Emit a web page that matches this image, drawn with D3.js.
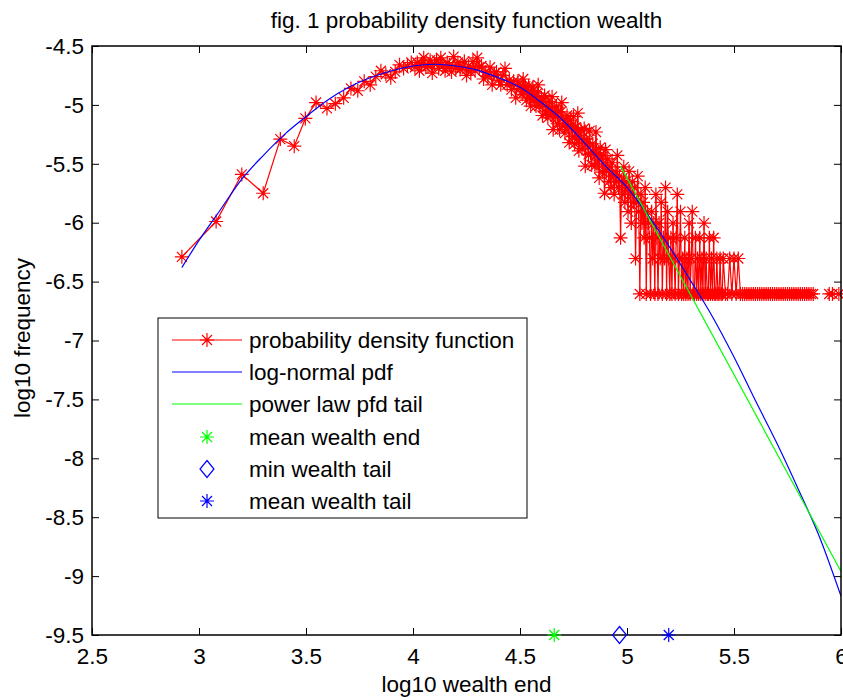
<!DOCTYPE html>
<html><head><meta charset="utf-8">
<script src="https://cdn.jsdelivr.net/npm/d3@7"></script>
<style>
body{margin:0;background:#fff}
svg{display:block}
text{font-family:"Liberation Sans",Arial,Helvetica,sans-serif;font-size:22.5px;fill:#000}
</style>
</head><body>
<svg id="c" width="843" height="700"></svg>
<script>
// ---------- data ----------
const titleText = "fig. 1 probability density function wealth";
const xLabel = "log10 wealth end";
const yLabel = "log10 frequency";
const xTicks = [2.5, 3, 3.5, 4, 4.5, 5, 5.5, 6];
const yTicks = [-4.5, -5, -5.5, -6, -6.5, -7, -7.5, -8, -8.5, -9, -9.5];

// empirical pdf (log10 wealth, log10 frequency) : body
const pdfBody = [
[2.92,-6.29],[3.08,-5.99],[3.20,-5.59],[3.30,-5.75],[3.38,-5.29],[3.445,-5.35],[3.497,-5.115],[3.547,-4.98],
[3.598,-5.03],[3.637,-4.99],[3.676,-4.94],[3.71,-4.86],[3.742,-4.88],[3.772,-4.80],[3.80,-4.83],[3.826,-4.76],
[3.85,-4.71],[3.873,-4.74],[3.896,-4.77],[3.917,-4.72],[3.937,-4.66],[3.956,-4.69],[3.974,-4.67],[3.992,-4.64],[4.009,-4.68],
[4.02,-4.64],[4.03,-4.71],[4.04,-4.65],[4.05,-4.60],[4.06,-4.68],[4.07,-4.67],[4.08,-4.62],[4.09,-4.73],[4.10,-4.65],
[4.11,-4.62],[4.12,-4.69],[4.13,-4.60],[4.14,-4.67],[4.15,-4.71],[4.16,-4.64],[4.17,-4.66],[4.18,-4.72],[4.19,-4.59],
[4.20,-4.69],[4.21,-4.64],[4.22,-4.70],[4.23,-4.68],[4.24,-4.63],[4.25,-4.75],[4.26,-4.67],[4.27,-4.72],[4.28,-4.63],
[4.29,-4.71],[4.30,-4.60],[4.31,-4.68],[4.32,-4.67],[4.33,-4.78],[4.34,-4.72],[4.35,-4.76],[4.36,-4.68],[4.37,-4.83],
[4.38,-4.74],[4.39,-4.72],[4.40,-4.79],[4.41,-4.83],[4.42,-4.75],[4.43,-4.69],[4.44,-4.83],[4.45,-4.79],[4.46,-4.87],
[4.47,-4.80],[4.48,-4.94],[4.49,-4.80],[4.50,-4.86],
[4.505,-4.84],[4.51,-4.91],[4.515,-4.78],[4.52,-4.89],[4.525,-4.84],[4.53,-4.96],[4.535,-4.89],[4.54,-4.84],[4.545,-4.94],
[4.55,-5.01],[4.555,-4.89],[4.56,-4.85],[4.565,-4.96],[4.57,-4.93],[4.575,-5.01],[4.58,-4.90],[4.585,-4.83],[4.59,-5.01],
[4.595,-4.98],[4.60,-4.94],[4.605,-5.09],[4.61,-4.97],[4.615,-4.92],[4.62,-5.06],[4.625,-5.02],[4.63,-5.11],[4.635,-4.97],
[4.64,-5.02],[4.645,-5.08],[4.65,-4.93],[4.655,-5.21],[4.66,-5.06],[4.665,-5.10],[4.67,-5.01],[4.675,-5.16],[4.68,-5.06],
[4.685,-5.21],[4.69,-5.06],[4.695,-4.98],[4.70,-5.18],[4.705,-5.13],[4.71,-5.24],[4.715,-5.13],[4.72,-5.09],[4.725,-5.19],
[4.73,-5.32],[4.735,-5.13],[4.74,-5.18],[4.745,-5.27],[4.75,-5.10],[4.755,-5.33],[4.76,-5.19],[4.765,-5.29],[4.77,-5.07],
[4.775,-5.39],[4.78,-5.26],[4.785,-5.21],[4.79,-5.37],[4.795,-5.32],[4.80,-5.20],[4.805,-5.52],[4.81,-5.29],[4.815,-5.32],
[4.82,-5.42],[4.825,-5.22],[4.83,-5.41],[4.835,-5.51],[4.84,-5.33],[4.845,-5.40],[4.85,-5.52],[4.855,-5.23],[4.86,-5.50],
[4.865,-5.41],[4.87,-5.62],[4.875,-5.36],[4.88,-5.46],[4.885,-5.57],[4.89,-5.43],[4.895,-5.75],[4.90,-5.38]
];
// empirical pdf : tail (counts quantised at low frequency)
const pdfTail = [
[4.905,-5.564],[4.91,-5.459],[4.915,-5.651],[4.92,-5.526],[4.925,-5.702],[4.93,-5.491],[4.935,-5.605],[4.94,-5.76],
[4.945,-5.564],[4.95,-5.651],[4.955,-5.429],[4.96,-5.702],[4.965,-5.605],[4.97,-6.128],[4.975,-5.651],[4.98,-5.76],
[4.985,-5.526],[4.99,-5.827],[4.995,-5.651],[5.0,-5.702],[5.005,-5.906],[5.01,-5.564],[5.015,-5.76],[5.02,-6.003],
[5.025,-5.651],[5.03,-5.827],[5.035,-5.702],[5.04,-6.304],[5.045,-5.827],[5.05,-5.605],[5.055,-5.906],[5.06,-6.605],
[5.065,-5.76],[5.07,-6.003],[5.075,-5.827],[5.08,-6.128],[5.085,-5.702],[5.09,-6.605],[5.095,-5.906],[5.1,-6.003],
[5.105,-6.128],[5.11,-6.605],[5.115,-5.906],[5.12,-6.304],[5.125,-6.003],[5.13,-6.605],[5.135,-5.76],[5.14,-6.128],
[5.145,-6.605],[5.15,-6.003],[5.155,-6.304],[5.16,-5.827],[5.165,-6.605],[5.17,-6.128],[5.175,-6.304],[5.18,-5.702],
[5.185,-6.605],[5.19,-5.906],[5.195,-6.304],[5.2,-6.605],[5.205,-6.128],[5.21,-6.605],[5.215,-6.003],[5.22,-6.304],
[5.225,-6.605],[5.23,-6.128],[5.235,-5.76],[5.24,-6.605],[5.245,-6.304],[5.25,-5.906],[5.255,-6.605],[5.26,-6.304],
[5.265,-6.605],[5.27,-6.128],[5.275,-6.605],[5.28,-6.304],[5.285,-6.605],[5.29,-6.003],[5.295,-6.605],[5.3,-6.304],
[5.305,-5.906],[5.31,-6.605],[5.315,-6.605],[5.32,-6.128],[5.325,-6.605],[5.33,-6.304],[5.335,-6.605],[5.34,-6.128],
[5.345,-6.605],[5.35,-6.304],[5.355,-6.605],[5.36,-6.003],[5.365,-6.605],[5.37,-6.304],[5.375,-6.605],[5.38,-6.605],
[5.385,-6.128],[5.39,-6.605],[5.395,-6.304],[5.4,-6.605],[5.405,-6.128],[5.41,-6.605],[5.415,-6.605],[5.42,-6.304],
[5.425,-6.605],[5.43,-6.605],[5.435,-6.304],[5.44,-6.605],[5.445,-6.605],[5.45,-6.304],
[5.46,-6.605],[5.47,-6.605],[5.48,-6.304],[5.49,-6.605],[5.5,-6.304],[5.51,-6.605],[5.52,-6.304],[5.53,-6.605],
[5.54,-6.605],[5.55,-6.605],[5.56,-6.605],[5.57,-6.605],[5.58,-6.605],[5.59,-6.605],[5.6,-6.605],[5.61,-6.605],
[5.62,-6.605],[5.63,-6.605],[5.64,-6.605],[5.65,-6.605],[5.66,-6.605],[5.67,-6.605],[5.68,-6.605],[5.69,-6.605],
[5.7,-6.605],[5.71,-6.605],[5.72,-6.605],[5.73,-6.605],[5.74,-6.605],[5.75,-6.605],[5.76,-6.605],[5.77,-6.605],
[5.78,-6.605],[5.79,-6.605],[5.8,-6.605],[5.81,-6.605],[5.82,-6.605],[5.83,-6.605],[5.84,-6.605],[5.85,-6.605],
[5.86,-6.605],[5.87,-6.605]
];
// isolated end of the pdf after empty bins
const pdfEnd = [[5.945,-6.605],[5.96,-6.605],[5.99,-6.605]];

// fitted log-normal pdf
const logNormalX = [2.92,3.0,3.1,3.2,3.3,3.4,3.5,3.6,3.7,3.8,3.9,4.0,4.1,4.2,4.3,4.4,4.5,4.6,4.7,4.8,4.9,5.0,5.1,5.2,5.3,5.4,5.5,5.6,5.7,5.8,5.9,6.0];
const logNormalY = [-6.38,-6.15,-5.89,-5.63,-5.43,-5.25,-5.10,-4.96,-4.85,-4.77,-4.71,-4.67,-4.655,-4.67,-4.705,-4.77,-4.85,-4.98,-5.13,-5.32,-5.52,-5.70,-5.94,-6.21,-6.50,-6.80,-7.14,-7.51,-7.87,-8.26,-8.67,-9.17];

// power law tail
const powerLawX = [4.97, 6.0];
const powerLawY = [-5.52, -8.96];

// marker values on the x axis
const meanWealthEnd = 4.66;
const minWealthTail = 4.965;
const meanWealthTail = 5.195;

const legendLabels = ["probability density function","log-normal pdf","power law pfd tail","mean wealth end","min wealth tail","mean wealth tail"];

// ---------- drawing ----------
const svg = d3.select("#c");
const L = 92, R = 841, T = 46, B = 635;
const x = d3.scaleLinear().domain([2.5, 6]).range([L, R]);
const y = d3.scaleLinear().domain([-9.5, -4.5]).range([B, T]);

svg.append("rect").attr("width",843).attr("height",700).attr("fill","#fff");
svg.append("defs").append("clipPath").attr("id","clip")
  .append("rect").attr("x",L).attr("y",T).attr("width",R-L).attr("height",B-T);

const starPath = "M-7,0H7M0,-7V7M-5,-5L5,5M-5,5L5,-5";
const diamondPath = "M0,-8.5L7,0L0,8.5L-7,0Z";

// axes ticks (inside, all four sides)
const fmt = d => String(d);
const gx = svg.append("g").attr("transform",`translate(0,${B})`)
  .call(d3.axisBottom(x).tickValues(xTicks).tickSize(-7).tickSizeOuter(0).tickPadding(13).tickFormat(fmt));
const gxt = svg.append("g").attr("transform",`translate(0,${T})`)
  .call(d3.axisTop(x).tickValues(xTicks).tickSize(-7).tickSizeOuter(0).tickFormat(""));
const gy = svg.append("g").attr("transform",`translate(${L},0)`)
  .call(d3.axisLeft(y).tickValues(yTicks).tickSize(-7).tickSizeOuter(0).tickPadding(8).tickFormat(fmt));
const gyr = svg.append("g").attr("transform",`translate(${R},0)`)
  .call(d3.axisRight(y).tickValues(yTicks).tickSize(-7).tickSizeOuter(0).tickFormat(""));
[gx,gxt,gy,gyr].forEach(g=>{
  g.select(".domain").remove();
  g.selectAll(".tick line").attr("stroke","#000").attr("stroke-width",1);
  g.selectAll("text").attr("font-size",22.5).attr("font-family","Liberation Sans, Arial, sans-serif").attr("fill","#000");
});

// red pdf
const plot = svg.append("g");
const line = d3.line().defined(d => d !== null).x(d => x(d[0])).y(d => y(d[1]));
const pdfAll = pdfBody.concat(pdfTail, [null], pdfEnd);
plot.append("path").attr("d", line(pdfAll)).attr("clip-path","url(#clip)")
  .attr("fill","none").attr("stroke","#ff0000").attr("stroke-width",1.2);
plot.append("g").selectAll("path").data(pdfBody.concat(pdfTail, pdfEnd)).join("path")
  .attr("d", starPath).attr("transform", d => `translate(${x(d[0])},${y(d[1])})`)
  .attr("fill","none").attr("stroke","#ff0000").attr("stroke-width",1.2);

// log-normal
const lnData = logNormalX.map((v,i)=>[v, logNormalY[i]]);
plot.append("path").attr("d", d3.line().curve(d3.curveMonotoneX).x(d=>x(d[0])).y(d=>y(d[1]))(lnData))
  .attr("clip-path","url(#clip)").attr("fill","none").attr("stroke","#0000ff").attr("stroke-width",1.2);

// power law
const plData = powerLawX.map((v,i)=>[v, powerLawY[i]]);
plot.append("path").attr("d", d3.line().x(d=>x(d[0])).y(d=>y(d[1]))(plData))
  .attr("clip-path","url(#clip)").attr("fill","none").attr("stroke","#00ff00").attr("stroke-width",1.2);

// box
svg.append("rect").attr("x",L).attr("y",T).attr("width",R-L).attr("height",B-T)
  .attr("fill","none").attr("stroke","#000").attr("stroke-width",1.5);

// markers on the axis
svg.append("path").attr("d",starPath).attr("transform",`translate(${x(meanWealthEnd)},${y(-9.5)})`)
  .attr("fill","none").attr("stroke","#00ff00").attr("stroke-width",1.2);
svg.append("path").attr("d",diamondPath).attr("transform",`translate(${x(minWealthTail)},${y(-9.5)})`)
  .attr("fill","none").attr("stroke","#0000ff").attr("stroke-width",1.2);
svg.append("path").attr("d",starPath).attr("transform",`translate(${x(meanWealthTail)},${y(-9.5)})`)
  .attr("fill","none").attr("stroke","#0000ff").attr("stroke-width",1.2);

// title and labels
svg.append("text").attr("x",(L+R)/2).attr("y",28).attr("text-anchor","middle").text(titleText);
svg.append("text").attr("x",(L+R)/2).attr("y",692).attr("text-anchor","middle").text(xLabel);
svg.append("text").attr("transform",`translate(30,338) rotate(-90)`).attr("text-anchor","middle").text(yLabel);

// legend
const lg = svg.append("g");
lg.append("rect").attr("x",158).attr("y",318).attr("width",369).attr("height",200)
  .attr("fill","#fff").attr("stroke","#000").attr("stroke-width",1);
const rowY = [340,372,404,437,469,501];
const legendStyle = [
  {line:"#ff0000", marker:"star", color:"#ff0000"},
  {line:"#0000ff"},
  {line:"#00ff00"},
  {marker:"star", color:"#00ff00"},
  {marker:"diamond", color:"#0000ff"},
  {marker:"star", color:"#0000ff"}
];
legendLabels.forEach((lab,i)=>{
  const s = legendStyle[i], cy = rowY[i];
  if (s.line) lg.append("line").attr("x1",172).attr("x2",242).attr("y1",cy).attr("y2",cy)
    .attr("stroke",s.line).attr("stroke-width",1.2);
  if (s.marker) lg.append("path").attr("d", s.marker==="star"?starPath:diamondPath)
    .attr("transform",`translate(207,${cy})`).attr("fill","none").attr("stroke",s.color).attr("stroke-width",1.2);
  lg.append("text").attr("x",249).attr("y",cy).attr("dy","0.36em").text(lab);
});
</script>
</body></html>
